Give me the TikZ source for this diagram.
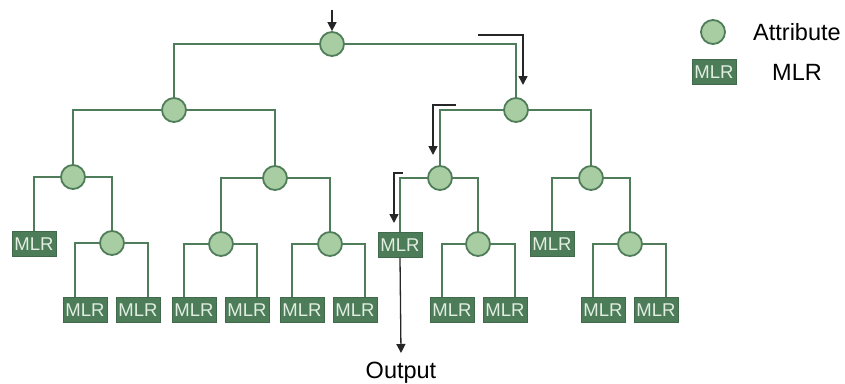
\documentclass[tikz,border=0pt]{standalone}
\usepackage{fontspec}
\setmainfont{Liberation Sans}
\usetikzlibrary{arrows.meta}
\pgfdeclarelayer{bg}
\pgfsetlayers{bg,main}
\definecolor{lnc}{HTML}{4F7D59}
\definecolor{circfill}{HTML}{A9CDA3}
\definecolor{boxfill}{HTML}{4C7C58}
\definecolor{boxtxt}{HTML}{E2EEE2}
\tikzset{
  attr/.style={circle,draw=lnc,fill=circfill,line width=1.8pt,minimum size=24pt,inner sep=0pt},
  mlr/.style={rectangle,draw=boxfill!85!black,fill=boxfill,line width=0.8pt,minimum width=44pt,minimum height=25pt,inner sep=0pt,
    text=boxtxt,font=\fontsize{18.5}{18.5}\selectfont},
  conn/.style={draw=lnc,line width=2pt},
  flow/.style={draw=black!85,line width=1.6pt,-{Triangle[length=9pt,width=9pt]}},
  lbl/.style={font=\fontsize{23.5}{23.5}\selectfont,inner sep=0pt}
}
\begin{document}
\begin{tikzpicture}[x=1pt,y=-1pt]
\useasboundingbox (0,0) rectangle (845,383);
\node[attr] (root) at (332,44) {};
\node[attr] (l1a) at (174,110) {};
\node[attr] (l1b) at (516,110) {};
\node[attr] (l2a) at (73,177) {};
\node[attr] (l2b) at (275,178) {};
\node[attr] (l2c) at (440,178) {};
\node[attr] (l2d) at (591,178) {};
\node[mlr] (m1) at (34,244) {MLR};
\node[attr] (l3a) at (112,243) {};
\node[attr] (l3b) at (221,244) {};
\node[attr] (l3c) at (330,244) {};
\node[mlr] (m2) at (400,245) {MLR};
\node[attr] (l3d) at (478,244) {};
\node[mlr] (m3) at (552,244) {MLR};
\node[attr] (l3e) at (630,244) {};
\node[mlr] (b1) at (85,310) {MLR};
\node[mlr] (b2) at (138,310) {MLR};
\node[mlr] (b3) at (194,310) {MLR};
\node[mlr] (b4) at (247,310) {MLR};
\node[mlr] (b5) at (302,310) {MLR};
\node[mlr] (b6) at (355,310) {MLR};
\node[mlr] (b7) at (452,310) {MLR};
\node[mlr] (b8) at (505,310) {MLR};
\node[mlr] (b9) at (603,310) {MLR};
\node[mlr] (b10) at (656,310) {MLR};
\begin{pgfonlayer}{bg}
\draw[conn] (root.west) -| (l1a.north);
\draw[conn] (root.east) -| (l1b.north);
\draw[conn] (l1a.west) -| (l2a.north);
\draw[conn] (l1a.east) -| (l2b.north);
\draw[conn] (l1b.west) -| (l2c.north);
\draw[conn] (l1b.east) -| (l2d.north);
\draw[conn] (l2a.west) -| (m1.north);
\draw[conn] (l2a.east) -| (l3a.north);
\draw[conn] (l2b.west) -| (l3b.north);
\draw[conn] (l2b.east) -| (l3c.north);
\draw[conn] (l2c.west) -| (m2.north);
\draw[conn] (l2c.east) -| (l3d.north);
\draw[conn] (l2d.west) -| (m3.north);
\draw[conn] (l2d.east) -| (l3e.north);
\draw[conn] (l3a.west) -| ([xshift=-10pt]b1.north);
\draw[conn] (l3a.east) -| ([xshift=10pt]b2.north);
\draw[conn] (l3b.west) -| ([xshift=-10pt]b3.north);
\draw[conn] (l3b.east) -| ([xshift=10pt]b4.north);
\draw[conn] (l3c.west) -| ([xshift=-10pt]b5.north);
\draw[conn] (l3c.east) -| ([xshift=10pt]b6.north);
\draw[conn] (l3d.west) -| ([xshift=-10pt]b7.north);
\draw[conn] (l3d.east) -| ([xshift=10pt]b8.north);
\draw[conn] (l3e.west) -| ([xshift=-10pt]b9.north);
\draw[conn] (l3e.east) -| ([xshift=10pt]b10.north);
\end{pgfonlayer}
% flow arrows
\coordinate (in) at (332,10);
\coordinate (f1s) at (478,35);
\coordinate (f1e) at (523,85);
\coordinate (f2s) at (456,105);
\coordinate (f2e) at (433,155);
\coordinate (f3s) at (403,173);
\coordinate (f3e) at (394,223);
\coordinate (outp) at (401,353);
\draw[flow] (in) -- (root.north);
\draw[flow] (f1s) -| (f1e);
\draw[flow] (f2s) -| (f2e);
\draw[flow] (f3s) -| (f3e);
\draw[flow,line width=1.3pt] (m2.south) -- (outp);
\node[lbl,anchor=north] (out) at (401,362) {Output};
% legend
\node[attr] (lega) at (713,32) {};
\node[lbl,anchor=west] (legat) at (753,32) {Attribute};
\node[mlr] (legm) at (714,72) {MLR};
\node[lbl] (legmt) at (797,72) {MLR};
\end{tikzpicture}
\end{document}
